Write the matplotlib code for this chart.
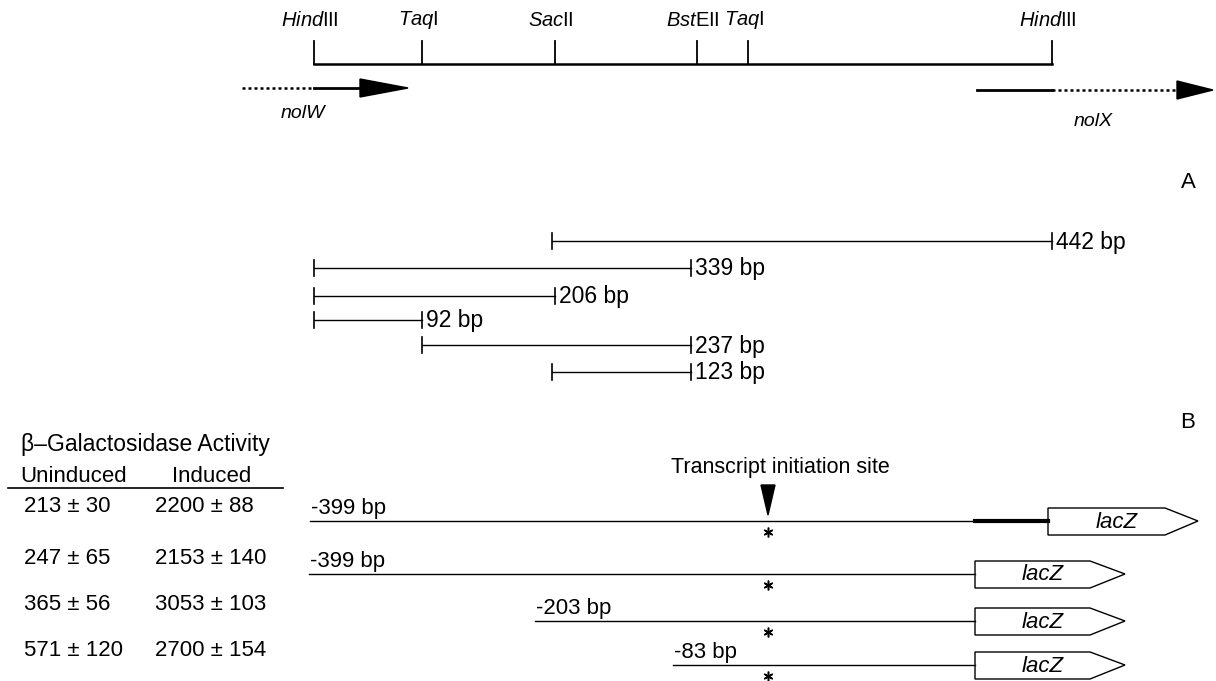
import matplotlib.pyplot as plt
from matplotlib.patches import Polygon

plt.rcParams['font.family'] = ['Liberation Sans', 'DejaVu Sans']
plt.rcParams['mathtext.fontset'] = 'custom'
plt.rcParams['mathtext.it'] = 'Liberation Sans:italic'
plt.rcParams['mathtext.rm'] = 'Liberation Sans'

# restriction map (A)
site_labels = [r'$\mathit{Hind}$III', r'$\mathit{Taq}$I', r'$\mathit{Sac}$II',
               r'$\mathit{Bst}$EII', r'$\mathit{Taq}$I', r'$\mathit{Hind}$III']
site_x = [314, 422, 555, 697, 748, 1052]

# fragments: start site, end site, label
frag_start = [2, 0, 0, 0, 1, 2]
frag_end = [5, 3, 2, 1, 3, 3]
frag_labels = ['442 bp', '339 bp', '206 bp', '92 bp', '237 bp', '123 bp']

# beta-galactosidase table (B)
uninduced = ['213 ± 30', '247 ± 65', '365 ± 56', '571 ± 120']
induced = ['2200 ± 88', '2153 ± 140', '3053 ± 103', '2700 ± 154']
construct_labels = ['-399 bp', '-399 bp', '-203 bp', '-83 bp']
construct_start = [310, 309, 535, 673]

fig, ax = plt.subplots(figsize=(12.16, 6.81), dpi=100)
fig.subplots_adjust(0, 0, 1, 1)
ax.set_xlim(0, 1216)
ax.set_ylim(681, 0)
ax.axis('off')

fs = 16
# map line and site ticks
map_y = 64
ax.plot([site_x[0], site_x[-1]], [map_y, map_y], color='black', lw=1.8)
for x, lab in zip(site_x, site_labels):
    ax.plot([x, x], [map_y, 41], color='black', lw=1.3)
    ax.text(x - 4, 20, lab, ha='center', va='center', fontsize=14.5)

# nolW arrow
ax.plot([242, 314], [88, 88], color='black', lw=1.8, ls=(0, (1.2, 1.2)))
ax.plot([314, 362], [88, 88], color='black', lw=2)
ax.add_patch(Polygon([[360, 79], [408, 88], [360, 97]], closed=True, color='black'))
ax.text(303, 113, 'nolW', ha='center', va='center', fontsize=14, style='italic')

# nolX arrow
ax.plot([977, 1052], [90, 90], color='black', lw=2)
ax.plot([1052, 1180], [90, 90], color='black', lw=1.8, ls=(0, (1.2, 1.2)))
ax.add_patch(Polygon([[1177, 81], [1213, 90], [1177, 99]], closed=True, color='black'))
ax.text(1093, 122, 'nolX', ha='center', va='center', fontsize=14, style='italic')

ax.text(1188, 182, 'A', ha='center', va='center', fontsize=16)
ax.text(1188, 422, 'B', ha='center', va='center', fontsize=16)

# fragments
frag_y = [241, 268, 296, 320, 345, 372]
for s, e, lab, y in zip(frag_start, frag_end, frag_labels, frag_y):
    x0, x1 = site_x[s], site_x[e]
    if s == 2:
        x0 -= 3
    if e == 3:
        x1 -= 6
    ax.plot([x0, x1], [y, y], color='black', lw=1)
    ax.plot([x0, x0], [y - 8, y + 8], color='black', lw=1.2)
    ax.plot([x1, x1], [y - 8, y + 8], color='black', lw=1.2)
    ax.text(x1 + 4, y + 1, lab, ha='left', va='center', fontsize=16.5)

# table
ax.text(21, 445, 'β–Galactosidase Activity', ha='left', va='center', fontsize=16.5)
ax.text(74, 476, 'Uninduced', ha='center', va='center', fontsize=fs)
ax.text(212, 476, 'Induced', ha='center', va='center', fontsize=fs)
ax.plot([8, 283], [488, 488], color='black', lw=1.2)
row_y = [507, 558, 605, 651]
for y, u, i in zip(row_y, uninduced, induced):
    ax.text(24, y, u, ha='left', va='center', fontsize=fs)
    ax.text(155, y, i, ha='left', va='center', fontsize=fs)

# constructs
line_y = [521, 574, 621, 665]
box_left = [1048, 975, 975, 975]
box_right = [1165, 1090, 1090, 1090]
tip_x = [1198, 1125, 1125, 1125]
tss_x = 768
for k in range(4):
    y = line_y[k]
    x0 = construct_start[k]
    ax.plot([x0, 975], [y, y], color='black', lw=1)
    ax.text(x0 + 1, y - 7, construct_labels[k], ha='left', va='baseline', fontsize=fs)
    ax.plot(tss_x, y + 11, marker=(6, 2, 0), ms=7, mew=1.1, color='black')
    bl, br, tp = box_left[k], box_right[k], tip_x[k]
    ax.add_patch(Polygon([[bl, y - 13], [br, y - 13], [tp, y], [br, y + 14], [bl, y + 14]],
                         closed=True, facecolor='white', edgecolor='black', lw=1))
    ax.text((bl + br) / 2 + 10, y + 1, 'lacZ', ha='center', va='center', fontsize=fs, style='italic')
ax.plot([975, 1048], [line_y[0], line_y[0]], color='black', lw=3)

# transcript initiation site
ax.add_patch(Polygon([[761, 485], [775, 485], [768, 515]], closed=True, color='black'))
ax.text(780, 467, 'Transcript initiation site', ha='center', va='center', fontsize=15.5)

fig.savefig('out.png', dpi=100)
